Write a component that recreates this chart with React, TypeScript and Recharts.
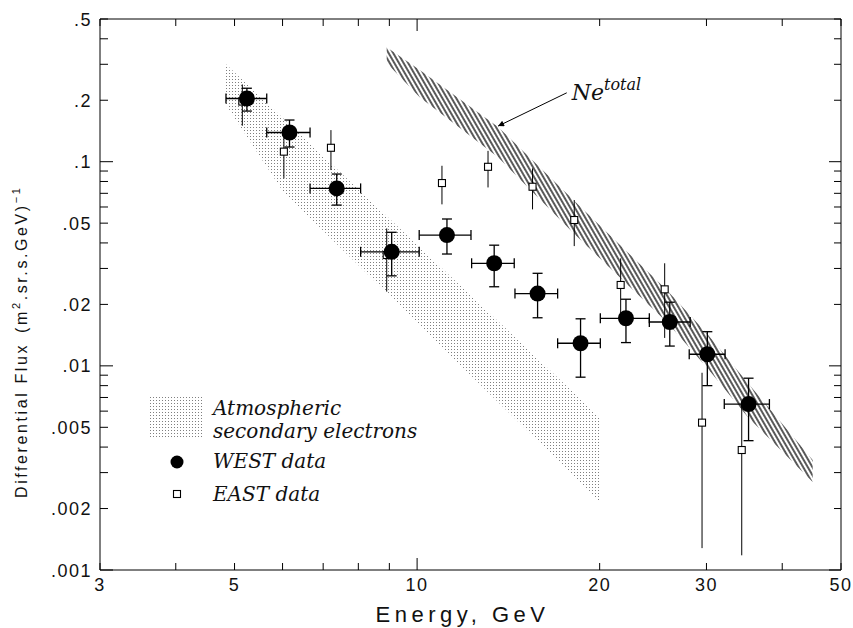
import { ComposedChart, Scatter, Area, XAxis, YAxis, ErrorBar, ReferenceLine, ReferenceDot, Legend } from 'recharts'

// WEST data (filled circles)
const westEnergy = [5.24, 6.16, 7.37, 9.08, 11.2, 13.4, 15.8, 18.6, 22.1, 26.1, 30.1, 35.2]
const westEnergyLo = [4.84, 5.65, 6.66, 8.07, 10.08, 12.3, 14.5, 17.05, 20.05, 24.15, 28.1, 32.1]
const westEnergyHi = [5.65, 6.66, 8.07, 10.08, 12.27, 14.46, 17.05, 20.05, 24.15, 28.2, 32.2, 38.1]
const westFlux = [0.204, 0.139, 0.074, 0.0362, 0.0437, 0.0318, 0.0226, 0.0129, 0.0171, 0.0164, 0.0114, 0.0065]
const westFluxLo = [0.177, 0.118, 0.0613, 0.0276, 0.0353, 0.0244, 0.0172, 0.0088, 0.013, 0.0125, 0.008, 0.0043]
const westFluxHi = [0.229, 0.16, 0.087, 0.0451, 0.0524, 0.039, 0.0284, 0.017, 0.0212, 0.0205, 0.0147, 0.0087]

// EAST data (open squares)
const eastEnergy = [5.15, 6.03, 7.21, 8.91, 10.99, 13.09, 15.5, 18.16, 21.66, 25.6, 29.5, 34.3]
const eastFlux = [0.197, 0.112, 0.117, 0.0349, 0.0786, 0.0944, 0.0754, 0.0518, 0.0249, 0.0237, 0.00527, 0.00387]
const eastFluxLo = [0.15, 0.0828, 0.091, 0.0231, 0.0618, 0.0748, 0.0584, 0.0386, 0.0172, 0.0137, 0.00128, 0.00118]
const eastFluxHi = [0.239, 0.1376, 0.1428, 0.0471, 0.0955, 0.113, 0.0927, 0.0649, 0.0336, 0.0318, 0.00925, 0.0065]

// atmospheric secondary electrons band
const atmosEnergy = [4.84, 6.0, 20]
const atmosLow = [0.19, 0.072, 0.00216]
const atmosHigh = [0.3, 0.164, 0.0056]

// Ne total band
const neEnergy = [8.91, 10.1, 13.6, 18.1, 25.8, 30.0, 35.1, 44.9]
const neLow = [0.304, 0.207, 0.105, 0.0447, 0.0164, 0.00986, 0.00561, 0.0027]
const neHigh = [0.364, 0.281, 0.148, 0.0649, 0.0235, 0.01447, 0.00824, 0.00346]

const xTicks = [3, 4, 5, 6, 7, 8, 9, 10, 20, 30, 40, 50]
const xLabels = [3, 5, 10, 20, 30, 50]
const yTicks = [0.001, 0.002, 0.003, 0.004, 0.005, 0.006, 0.007, 0.008, 0.009, 0.01, 0.02, 0.03, 0.04, 0.05, 0.06, 0.07, 0.08, 0.09, 0.1, 0.2, 0.3, 0.4, 0.5]
const yLabels = [0.001, 0.002, 0.005, 0.01, 0.02, 0.05, 0.1, 0.2, 0.5]

const westData = westEnergy.map((x, i) => ({
  x,
  y: westFlux[i],
  ex: [x - westEnergyLo[i], westEnergyHi[i] - x],
  ey: [westFlux[i] - westFluxLo[i], westFluxHi[i] - westFlux[i]],
}))
const eastData = eastEnergy.map((x, i) => ({
  x,
  y: eastFlux[i],
  ey: [eastFlux[i] - eastFluxLo[i], eastFluxHi[i] - eastFlux[i]],
}))
const atmosData = atmosEnergy.map((x, i) => ({ x, band: [atmosLow[i], atmosHigh[i]] }))
const neData = neEnergy.map((x, i) => ({ x, band: [neLow[i], neHigh[i]] }))

const tickFont = { fontFamily: 'Liberation Sans, Arial, sans-serif', fontSize: 18, letterSpacing: 1.5, fill: '#111' }
const serifItalic = { fontFamily: 'DejaVu Serif, serif', fontStyle: 'italic' as const, fill: '#111' }

const isDecade = (v: number) => Math.abs(Math.log10(v) - Math.round(Math.log10(v))) < 1e-6
const fmtY = (v: number) => String(v).replace(/^0/, '')

const BottomTick = (p: any) => {
  const v = p.payload.value
  return (
    <g>
      <line x1={p.x} x2={p.x} y1={p.y} y2={p.y - (isDecade(v) ? 12 : 7)} stroke="#000" />
      {xLabels.includes(v) && (
        <text x={p.x} y={p.y + 21} textAnchor="middle" {...tickFont}>{v}</text>
      )}
    </g>
  )
}
const TopTick = (p: any) => {
  const v = p.payload.value
  return <line x1={p.x} x2={p.x} y1={p.y} y2={p.y + (isDecade(v) ? 12 : 7)} stroke="#000" />
}
const LeftTick = (p: any) => {
  const v = p.payload.value
  return (
    <g>
      <line x1={p.x} x2={p.x + (isDecade(v) ? 13 : 8)} y1={p.y} y2={p.y} stroke="#000" />
      {yLabels.some((l) => Math.abs(l - v) < 1e-9) && (
        <text x={p.x - 8} y={p.y + 6.5} textAnchor="end" {...tickFont}>{fmtY(v)}</text>
      )}
    </g>
  )
}
const RightTick = (p: any) => {
  const v = p.payload.value
  return <line x1={p.x} x2={p.x - (isDecade(v) ? 12 : 7)} y1={p.y} y2={p.y} stroke="#000" />
}

const XTitle = (p: any) => {
  const vb = p.viewBox
  return (
    <text x={vb.x + vb.width / 2 - 8} y={vb.y + 52} textAnchor="middle"
      fontFamily="Liberation Sans, Arial, sans-serif" fontSize={22} letterSpacing={4.5} fill="#111">
      Energy, GeV
    </text>
  )
}
const YTitle = () => (
  <text x={27} y={498} transform="rotate(-90, 27, 498)" textAnchor="start"
    fontFamily="Liberation Sans, Arial, sans-serif" fontSize={16} letterSpacing={2.6} fill="#111">
    Differential Flux
    <tspan dx={10}>(m</tspan>
    <tspan dy={-7} fontSize={11}>2</tspan>
    <tspan dy={7}>.sr.s.GeV)</tspan>
    <tspan dy={-7} fontSize={11}>−1</tspan>
  </text>
)

const Circle = (p: any) => <circle cx={p.cx} cy={p.cy} r={8} fill="#000" />
const Square = (p: any) => <rect x={p.cx - 3.5} y={p.cy - 3.5} width={7} height={7} fill="#fff" stroke="#000" strokeWidth={1.1} />

const LegendBox = () => (
  <svg width={320} height={120} style={{ display: 'block' }}>
    <rect x={9} y={5} width={53} height={42} fill="url(#dots)" />
    <text x={73} y={25} fontSize={20} {...serifItalic}>Atmospheric</text>
    <text x={73} y={48} fontSize={20} {...serifItalic}>secondary electrons</text>
    <circle cx={37} cy={72} r={6.5} fill="#000" />
    <text x={73} y={78} fontSize={20} {...serifItalic}>WEST data</text>
    <rect x={33.5} y={100.5} width={7} height={7} fill="#fff" stroke="#000" strokeWidth={1.1} />
    <text x={73} y={111} fontSize={20} {...serifItalic}>EAST data</text>
  </svg>
)

const NeLabel = (p: any) => (
  <text x={p.cx + 5} y={p.cy + 7} {...serifItalic}>
    <tspan fontSize={22}>Ne</tspan>
    <tspan fontSize={16} dy={-10}>total</tspan>
  </text>
)

export default function App() {
  return (
    <div style={{ position: 'absolute', left: 0, top: 0, width: 853, height: 628, background: '#fff' }}>
      <ComposedChart width={853} height={628} margin={{ top: 0, right: 0, bottom: 0, left: 0 }}>
        <defs>
          <pattern id="dots" width={3} height={3} patternUnits="userSpaceOnUse">
            <circle cx={1.5} cy={1.5} r={0.5} fill="#555" />
          </pattern>
          <pattern id="hatch" width={4} height={4} patternUnits="userSpaceOnUse" patternTransform="rotate(-30)">
            <line x1={2} y1={0} x2={2} y2={4} stroke="#000" strokeWidth={1.3} />
          </pattern>
          <marker id="arrowHead" viewBox="0 0 10 10" refX={10} refY={5} markerWidth={9} markerHeight={6} orient="auto" markerUnits="userSpaceOnUse">
            <path d="M0,0 L10,5 L0,10 z" fill="#000" />
          </marker>
        </defs>
        <XAxis dataKey="x" type="number" scale="log" domain={[3, 50]} allowDataOverflow ticks={xTicks} interval={0}
          height={58} tickSize={0} tickMargin={0} tickLine={false} tick={<BottomTick />}
          axisLine={{ stroke: '#000' }} label={<XTitle />} />
        <XAxis xAxisId="top" orientation="top" dataKey="x" type="number" scale="log" domain={[3, 50]} allowDataOverflow
          ticks={xTicks} interval={0} height={19} tickSize={0} tickMargin={0} tickLine={false} tick={<TopTick />}
          axisLine={{ stroke: '#000' }} />
        <YAxis dataKey="y" type="number" scale="log" domain={[0.001, 0.5]} allowDataOverflow ticks={yTicks} interval={0}
          width={100} tickSize={0} tickMargin={0} tickLine={false} tick={<LeftTick />}
          axisLine={{ stroke: '#000' }} label={<YTitle />} />
        <YAxis yAxisId="right" orientation="right" type="number" scale="log" domain={[0.001, 0.5]} allowDataOverflow
          ticks={yTicks} interval={0} width={12} tickSize={0} tickMargin={0} tickLine={false} tick={<RightTick />}
          axisLine={{ stroke: '#000' }} />

        <Area data={atmosData} dataKey="band" type="linear" stroke="none" fill="url(#dots)" fillOpacity={1} isAnimationActive={false} />
        <Area data={neData} dataKey="band" type="linear" stroke="none" fill="url(#hatch)" fillOpacity={1} isAnimationActive={false} />

        <Scatter data={eastData} shape={<Square />} isAnimationActive={false}>
          <ErrorBar dataKey="ey" direction="y" width={0} stroke="#000" strokeWidth={1} isAnimationActive={false} />
        </Scatter>
        <Scatter data={westData} shape={<Circle />} isAnimationActive={false}>
          <ErrorBar dataKey="ex" direction="x" width={5} stroke="#000" strokeWidth={1.3} isAnimationActive={false} />
          <ErrorBar dataKey="ey" direction="y" width={5} stroke="#000" strokeWidth={1.3} isAnimationActive={false} />
        </Scatter>

        <ReferenceLine segment={[{ x: 17.65, y: 0.2175 }, { x: 13.6, y: 0.1494 }]}
          shape={(p: any) => <line x1={p.x1} y1={p.y1} x2={p.x2} y2={p.y2} stroke="#000" strokeWidth={1} markerEnd="url(#arrowHead)" />} />
        <ReferenceDot x={17.65} y={0.2175} r={0} shape={<NeLabel />} />

        <Legend layout="horizontal" verticalAlign="middle" align="center" content={<LegendBox />}
          wrapperStyle={{ position: 'absolute', left: 140, top: 390, width: 320, height: 120 }} />
      </ComposedChart>
    </div>
  )
}
